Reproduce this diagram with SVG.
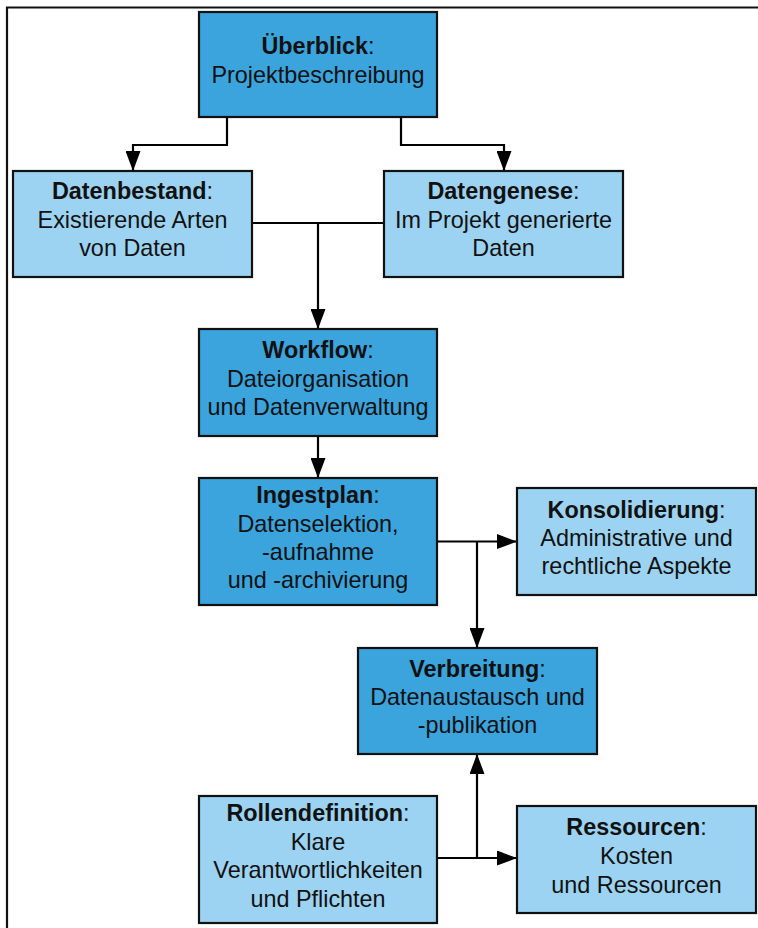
<svg xmlns="http://www.w3.org/2000/svg" width="758" height="928" viewBox="0 0 758 928">
<style>
.dark{fill:#3BA4DD;stroke:#111;stroke-width:2.2}
.light{fill:#9DD3F2;stroke:#111;stroke-width:2.2}
text{font-family:"Liberation Sans",Arial,sans-serif;font-size:23.4px;fill:#111;text-anchor:middle}
.b{font-weight:bold}
.conn path{fill:none;stroke:#000;stroke-width:2.2}
</style>
<defs>
<marker id="arr" markerUnits="userSpaceOnUse" markerWidth="20" markerHeight="15" refX="20" refY="7.5" orient="auto">
<path d="M0,0 L20,7.5 L0,15 z" fill="#000"/>
</marker>
</defs>
<rect width="758" height="928" fill="#fff"/>
<path d="M7,928 V7.5 H758" fill="none" stroke="#111" stroke-width="2.2"/>
<g class="conn">
<path d="M227,117 V145 H133 V171" marker-end="url(#arr)"/>
<path d="M401,117 V145 H504 V171" marker-end="url(#arr)"/>
<path d="M252,223 H318 V329" marker-end="url(#arr)"/>
<path d="M384,223 H318"/>
<path d="M318,436 V478" marker-end="url(#arr)"/>
<path d="M437,541.5 H517" marker-end="url(#arr)"/>
<path d="M477,541.5 V648" marker-end="url(#arr)"/>
<path d="M437,858 H477 V754" marker-end="url(#arr)"/>
<path d="M477,858 H517" marker-end="url(#arr)"/>
</g>
<g id="ueberblick">
<rect class="dark" x="199" y="12" width="238" height="105"/>
<text x="318" y="54"><tspan class="b">Überblick</tspan>:</text>
<text x="318" y="83">Projektbeschreibung</text>
</g>
<g id="datenbestand">
<rect class="light" x="13" y="171" width="239" height="106"/>
<text x="132.5" y="199"><tspan class="b">Datenbestand</tspan>:</text>
<text x="132.5" y="228">Existierende Arten</text>
<text x="132.5" y="256">von Daten</text>
</g>
<g id="datengenese">
<rect class="light" x="384" y="171" width="239" height="106"/>
<text x="503.5" y="199"><tspan class="b">Datengenese</tspan>:</text>
<text x="503.5" y="228">Im Projekt generierte</text>
<text x="503.5" y="256">Daten</text>
</g>
<g id="workflow">
<rect class="dark" x="199" y="329" width="238" height="107"/>
<text x="318" y="358"><tspan class="b">Workflow</tspan>:</text>
<text x="318" y="387">Dateiorganisation</text>
<text x="318" y="415">und Datenverwaltung</text>
</g>
<g id="ingestplan">
<rect class="dark" x="199" y="478" width="238" height="127"/>
<text x="318" y="503"><tspan class="b">Ingestplan</tspan>:</text>
<text x="318" y="532">Datenselektion,</text>
<text x="318" y="560">-aufnahme</text>
<text x="318" y="588">und -archivierung</text>
</g>
<g id="konsolidierung">
<rect class="light" x="517" y="488" width="239" height="107"/>
<text x="636.5" y="518"><tspan class="b">Konsolidierung</tspan>:</text>
<text x="636.5" y="546">Administrative und</text>
<text x="636.5" y="574">rechtliche Aspekte</text>
</g>
<g id="verbreitung">
<rect class="dark" x="358" y="648" width="239" height="106"/>
<text x="477.5" y="677"><tspan class="b">Verbreitung</tspan>:</text>
<text x="477.5" y="705">Datenaustausch und</text>
<text x="477.5" y="733">-publikation</text>
</g>
<g id="rollendefinition">
<rect class="light" x="199" y="796" width="238" height="127"/>
<text x="318" y="821"><tspan class="b">Rollendefinition</tspan>:</text>
<text x="318" y="850">Klare</text>
<text x="318" y="878">Verantwortlichkeiten</text>
<text x="318" y="907">und Pflichten</text>
</g>
<g id="ressourcen">
<rect class="light" x="517" y="806" width="239" height="107"/>
<text x="636.5" y="835"><tspan class="b">Ressourcen</tspan>:</text>
<text x="636.5" y="864">Kosten</text>
<text x="636.5" y="893">und Ressourcen</text>
</g>
</svg>
